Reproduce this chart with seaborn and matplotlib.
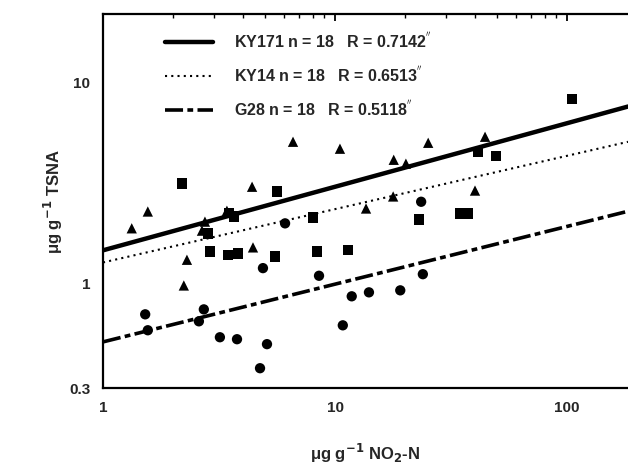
import numpy as np
import pandas as pd
import matplotlib
matplotlib.use("Agg")
import matplotlib.pyplot as plt
import seaborn as sns
from matplotlib.ticker import FixedLocator, FixedFormatter, LogLocator, NullFormatter

# --- data ---
ky171_x = [1.33, 1.56, 2.75, 2.67, 2.30, 2.23, 3.42, 4.39, 4.43, 6.59,
           10.5, 13.6, 17.9, 20.2, 25.2, 44.3, 17.8, 40.1]
ky171_y = [1.88, 2.28, 2.03, 1.83, 1.31, 0.975, 2.30, 3.03, 1.51, 5.08,
           4.69, 2.36, 4.13, 3.95, 5.02, 5.38, 2.71, 2.90]

ky14_x = [2.19, 5.62, 3.49, 3.67, 2.84, 2.89, 3.46, 3.82, 5.51, 8.04,
          8.36, 11.4, 23.0, 34.6, 37.4, 41.3, 49.4, 105]
ky14_y = [3.14, 2.87, 2.25, 2.15, 1.77, 1.44, 1.38, 1.41, 1.36, 2.13,
          1.44, 1.47, 2.08, 2.23, 2.23, 4.53, 4.33, 8.31]

g28_x = [1.52, 1.56, 2.72, 2.59, 3.19, 3.78, 4.75, 5.09, 4.89, 6.09,
         8.53, 11.8, 14.0, 10.8, 19.1, 23.9, 23.5]
g28_y = [0.70, 0.583, 0.741, 0.646, 0.538, 0.526, 0.377, 0.497, 1.19, 1.99,
         1.09, 0.861, 0.901, 0.617, 0.922, 1.11, 2.55]

# power-law fits y = a * x^b
cultivars = ["KY171", "KY14", "G28"]
fit_a = [1.46, 1.27, 0.51]
fit_b = [0.317, 0.266, 0.288]
n_obs = [18, 18, 18]
r_vals = ["0.7142", "0.6513", "0.5118"]

xmin, xmax = 1, 183
ymin, ymax = 0.3, 22

sns.set_style("white")
plt.rcParams['font.family'] = ['Liberation Sans', 'DejaVu Sans']
plt.rcParams['font.weight'] = 'bold'
plt.rcParams['mathtext.default'] = 'bf'

fig = plt.figure(figsize=(6.28, 4.71), dpi=100)
ax = fig.add_axes([0.164, 0.176, 0.836, 0.794])

pts = pd.DataFrame({
    "x": ky171_x + ky14_x + g28_x,
    "y": ky171_y + ky14_y + g28_y,
    "cv": ["KY171"] * len(ky171_x) + ["KY14"] * len(ky14_x) + ["G28"] * len(g28_x),
})
sns.scatterplot(data=pts, x="x", y="y", style="cv",
                markers={"KY171": "^", "KY14": "s", "G28": "o"},
                color="black", s=55, edgecolor="black", linewidth=0,
                legend=False, ax=ax)

styles = [dict(lw=3.2, ls="-"),
          dict(lw=1.5, ls=(0, (1, 2))),
          dict(lw=2.6, ls=(0, (5, 1.2, 1.6, 1.2)))]
handles = []
xs = np.logspace(np.log10(xmin), np.log10(xmax), 50)
for cv, a, b, n, r, st in zip(cultivars, fit_a, fit_b, n_obs, r_vals, styles):
    line_df = pd.DataFrame({"x": xs, "y": a * xs ** b})
    sns.lineplot(data=line_df, x="x", y="y", color="black", ax=ax, **st)
    h, = ax.plot([], [], color="black", **st)
    h.set_label(f"{cv} n = {n}   R = {r}$^{{''}}$")
    handles.append(h)

ax.set_xscale("log")
ax.set_yscale("log")
ax.set_xlim(xmin, xmax)
ax.set_ylim(ymin, ymax)

ax.xaxis.set_major_locator(FixedLocator([1, 10, 100]))
ax.xaxis.set_major_formatter(FixedFormatter(["1", "10", "100"]))
ax.xaxis.set_minor_locator(LogLocator(base=10, subs=np.arange(2, 10)))
ax.xaxis.set_minor_formatter(NullFormatter())
ax.yaxis.set_major_locator(FixedLocator([0.3, 1, 10]))
ax.yaxis.set_major_formatter(FixedFormatter(["0.3", "1", "10"]))
ax.yaxis.set_minor_locator(LogLocator(base=10, subs=np.arange(2, 10)))
ax.yaxis.set_minor_formatter(NullFormatter())

ax.tick_params(which="both", direction="in", top=True, right=False, color="black")
ax.tick_params(which="major", length=5, width=1.3, labelsize=11, pad=9)
ax.tick_params(which="minor", length=3, width=1.0)
for lab in ax.get_xticklabels() + ax.get_yticklabels():
    lab.set_fontweight("bold")

for side in ["left", "bottom", "top"]:
    ax.spines[side].set_linewidth(1.6)
    ax.spines[side].set_color("black")
ax.spines["right"].set_visible(False)

ax.set_xlabel("μg g$^{-1}$ NO$_2$-N", fontsize=12, fontweight="bold", labelpad=20)
ax.set_ylabel("μg g$^{-1}$ TSNA", fontsize=12, fontweight="bold", labelpad=3)

ax.legend(handles=handles, loc="upper left", bbox_to_anchor=(0.118, 0.955),
          frameon=False, handlelength=3.0, handletextpad=1.3,
          labelspacing=0.9, borderpad=0, borderaxespad=0,
          prop={"weight": "bold", "size": 11.5})

fig.savefig("out.png", dpi=100)
